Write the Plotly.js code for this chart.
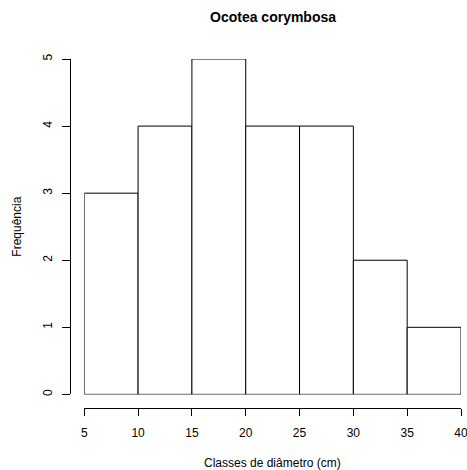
<!DOCTYPE html>
<html>
<head>
<meta charset="utf-8">
<script src="https://cdn.plot.ly/plotly-3.0.1.min.js"></script>
<style>html,body{margin:0;padding:0;background:#fff;}</style>
</head>
<body>
<div id="chart" style="width:467px;height:470px;"></div>
<script>
const binStarts = [5, 10, 15, 20, 25, 30, 35];
const binWidth = 5;
const counts = [3, 4, 5, 4, 4, 2, 1];
const xTicks = [5, 10, 15, 20, 25, 30, 35, 40];
const yTicks = [0, 1, 2, 3, 4, 5];
const titleText = "Ocotea corymbosa";
const xTitle = "Classes de diâmetro (cm)";
const yTitle = "Frequência";

const centers = binStarts.map(s => s + binWidth / 2);
const font = "Liberation Sans, Arial, sans-serif";

const trace = {
  type: 'bar',
  x: centers,
  y: counts,
  width: binStarts.map(() => binWidth),
  marker: {color: '#ffffff', line: {color: '#000000', width: 1}},
  hoverinfo: 'none'
};

const layout = {
  width: 467, height: 470,
  margin: {l: 70, r: 5.7, t: 59.3, b: 62, pad: 0},
  paper_bgcolor: '#fff', plot_bgcolor: '#fff',
  showlegend: false,
  bargap: 0,
  font: {family: font, size: 12, color: '#000'},
  xaxis: {
    domain: [0.0365, 1],
    range: [5, 40],
    anchor: 'free', position: 0,
    tickvals: xTicks, ticktext: xTicks.map(String),
    ticks: 'outside', ticklen: 7, tickcolor: '#000', tickwidth: 1,
    ticklabelstandoff: 7,
    ticklabeloverflow: 'allow',
    showline: true, linecolor: '#000', linewidth: 1,
    showgrid: false, zeroline: false,
    tickfont: {family: font, size: 12, color: '#000'}
  },
  yaxis: {
    domain: [0.039, 1],
    range: [0, 5],
    anchor: 'free', position: 0,
    tickvals: yTicks, ticktext: yTicks.map(String),
    tickangle: -90,
    ticks: 'outside', ticklen: 8, tickcolor: '#000', tickwidth: 1,
    ticklabelstandoff: 5,
    ticklabeloverflow: 'allow',
    showline: true, linecolor: '#000', linewidth: 1,
    showgrid: false, zeroline: false,
    tickfont: {family: font, size: 12, color: '#000'}
  },
  annotations: [
    {text: '<b>' + titleText + '</b>', xref: 'x', yref: 'paper', x: 22.5, y: 1, yshift: 42,
     showarrow: false, xanchor: 'center', yanchor: 'middle', font: {family: font, size: 14, color: '#000'}},
    {text: xTitle, xref: 'x', yref: 'paper', x: 22.5, y: 0, yshift: -55,
     showarrow: false, xanchor: 'center', yanchor: 'middle', font: {family: font, size: 12, color: '#000'}},
    {text: yTitle, xref: 'paper', yref: 'y', x: 0, xshift: -53, y: 2.5, textangle: -90,
     showarrow: false, xanchor: 'center', yanchor: 'middle', font: {family: font, size: 12, color: '#000'}}
  ]
};

Plotly.newPlot('chart', [trace], layout, {displayModeBar: false, staticPlot: true});
</script>
</body>
</html>
